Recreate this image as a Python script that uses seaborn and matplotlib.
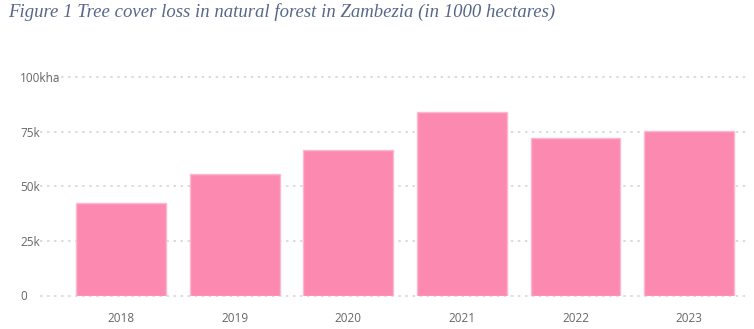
import matplotlib
matplotlib.use("Agg")
import matplotlib.pyplot as plt
import seaborn as sns
import pandas as pd

years = ["2018", "2019", "2020", "2021", "2022", "2023"]
loss_ha = [42400, 55800, 66500, 83800, 72200, 75500]
ytick_values = [0, 25000, 50000, 75000, 100000]
ytick_labels = ["0", "25k", "50k", "75k", "100kha"]
title = "Figure 1 Tree cover loss in natural forest in Zambezia (in 1000 hectares)"

df = pd.DataFrame({"year": years, "loss": loss_ha})

sns.set_theme(style="white")
plt.rcParams["font.family"] = ["Open Sans", "DejaVu Sans"]

fig = plt.figure(figsize=(7.54, 3.29), dpi=100)
ax = fig.add_axes([40 / 754, (329 - 295.5) / 329, (746 - 40) / 754, (295.5 - 77) / 329])

sns.barplot(data=df, x="year", y="loss", color="#FC8AB0", saturation=1,
            width=0.79, edgecolor="#FDB8CE", linewidth=1.0, ax=ax, zorder=3)

ax.set_xlim(-0.713, 5.5)
ax.set_ylim(0, 100000)
ax.set_yticks(ytick_values)
ax.set_yticklabels(ytick_labels)
ax.set_xlabel("")
ax.set_ylabel("")
for s in ax.spines.values():
    s.set_visible(False)
ax.grid(axis="y", color="#D2D2D2", linestyle=(0, (1.6, 3.0)), linewidth=1.1, zorder=0)
ax.grid(axis="x", visible=False)
for gl in ax.get_ygridlines():
    gl.set_clip_on(False)
ax.tick_params(axis="y", length=0, pad=14.4, labelsize=8.5, labelcolor="#666666")
ax.tick_params(axis="x", length=0, pad=12, labelsize=8.5, labelcolor="#666666")
for lab in ax.get_yticklabels():
    lab.set_horizontalalignment("left")

fig.text(8 / 754, 1 - 3 / 329, title, ha="left", va="top",
         family=["Liberation Serif", "DejaVu Serif"], style="italic",
         fontsize=13.5, color="#56678A")

fig.savefig("out.png", dpi=100)
